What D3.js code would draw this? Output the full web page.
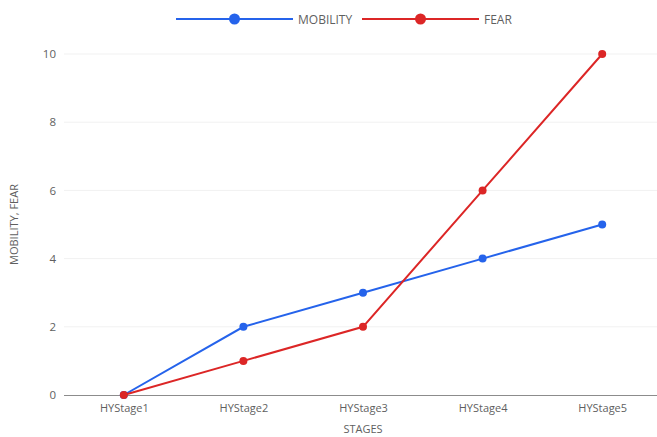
<!DOCTYPE html>
<html>
<head>
<meta charset="utf-8">
<script src="https://cdn.jsdelivr.net/npm/d3@7"></script>
<style>
  html, body { margin: 0; padding: 0; background: #fff; }
  text { font-family: "Open Sans", "Noto Sans", sans-serif; }
</style>
</head>
<body>
<svg id="chart" width="657" height="437"></svg>
<script>
// Stages and series values
const stages = ["HYStage1", "HYStage2", "HYStage3", "HYStage4", "HYStage5"];
const mobility = [0, 2, 3, 4, 5];
const fear = [0, 1, 2, 6, 10];
const yTicks = [0, 2, 4, 6, 8, 10];
const seriesNames = ["MOBILITY", "FEAR"];
const seriesColors = ["#2563eb", "#dc2626"];

const svg = d3.select("#chart");
const W = 657, H = 437;
const margin = { left: 64, right: -5, top: 54, bottom: 42 };

const x = d3.scalePoint()
  .domain(stages)
  .range([margin.left, W - margin.right])
  .padding(0.5);

const y = d3.scaleLinear()
  .domain([0, 10])
  .range([H - margin.bottom, margin.top]);

const textColor = "#5f5f5f";

// horizontal grid lines
svg.append("g")
  .selectAll("line")
  .data(yTicks.filter(d => d !== 0))
  .join("line")
  .attr("x1", margin.left)
  .attr("x2", W)
  .attr("y1", d => y(d))
  .attr("y2", d => y(d))
  .attr("stroke", "#f1f1f1")
  .attr("stroke-width", 1);

// y axis tick labels
const yAxis = d3.axisLeft(y).tickValues(yTicks).tickSize(0).tickPadding(8);
svg.append("g")
  .attr("transform", `translate(${margin.left},0)`)
  .call(yAxis)
  .call(g => g.select(".domain").remove())
  .call(g => g.selectAll("text")
    .attr("fill", textColor)
    .style("font-size", "11.5px"));

// x axis
const xAxis = d3.axisBottom(x).tickSize(0).tickPadding(9);
svg.append("g")
  .attr("transform", `translate(0,${y(0)})`)
  .call(xAxis)
  .call(g => g.select(".domain")
    .attr("d", `M${margin.left},0.5H${W}`)
    .attr("stroke", "#8c8c8c"))
  .call(g => g.selectAll("text")
    .attr("fill", textColor)
    .style("font-size", "11px"));

// axis titles
svg.append("text")
  .attr("x", x("HYStage3"))
  .attr("y", 433)
  .attr("text-anchor", "middle")
  .attr("fill", textColor)
  .style("font-size", "11px")
  .text("STAGES");

svg.append("text")
  .attr("transform", `translate(18,${(y(0) + y(10)) / 2}) rotate(-90)`)
  .attr("text-anchor", "middle")
  .attr("fill", textColor)
  .style("font-size", "11px")
  .text("MOBILITY, FEAR");

// series lines and points
const series = [mobility, fear];
const line = d3.line()
  .x((d, i) => x(stages[i]))
  .y(d => y(d));

series.forEach((vals, si) => {
  const g = svg.append("g");
  g.append("path")
    .datum(vals)
    .attr("d", line)
    .attr("fill", "none")
    .attr("stroke", seriesColors[si])
    .attr("stroke-width", 2);
  g.selectAll("circle")
    .data(vals)
    .join("circle")
    .attr("cx", (d, i) => x(stages[i]))
    .attr("cy", d => y(d))
    .attr("r", 4)
    .attr("fill", seriesColors[si]);
});

// legend
const legendItems = [
  { x0: 176, name: seriesNames[0], color: seriesColors[0] },
  { x0: 362, name: seriesNames[1], color: seriesColors[1] }
];
const legend = svg.append("g");
legendItems.forEach(it => {
  const g = legend.append("g").attr("transform", `translate(${it.x0},19)`);
  g.append("line")
    .attr("x1", 0).attr("x2", 117)
    .attr("y1", 0).attr("y2", 0)
    .attr("stroke", it.color)
    .attr("stroke-width", 2);
  g.append("circle")
    .attr("cx", 58.5).attr("cy", 0).attr("r", 5.5)
    .attr("fill", it.color);
  g.append("text")
    .attr("x", 122).attr("y", 4.5)
    .attr("fill", textColor)
    .style("font-size", "12px")
    .text(it.name);
});
</script>
</body>
</html>
